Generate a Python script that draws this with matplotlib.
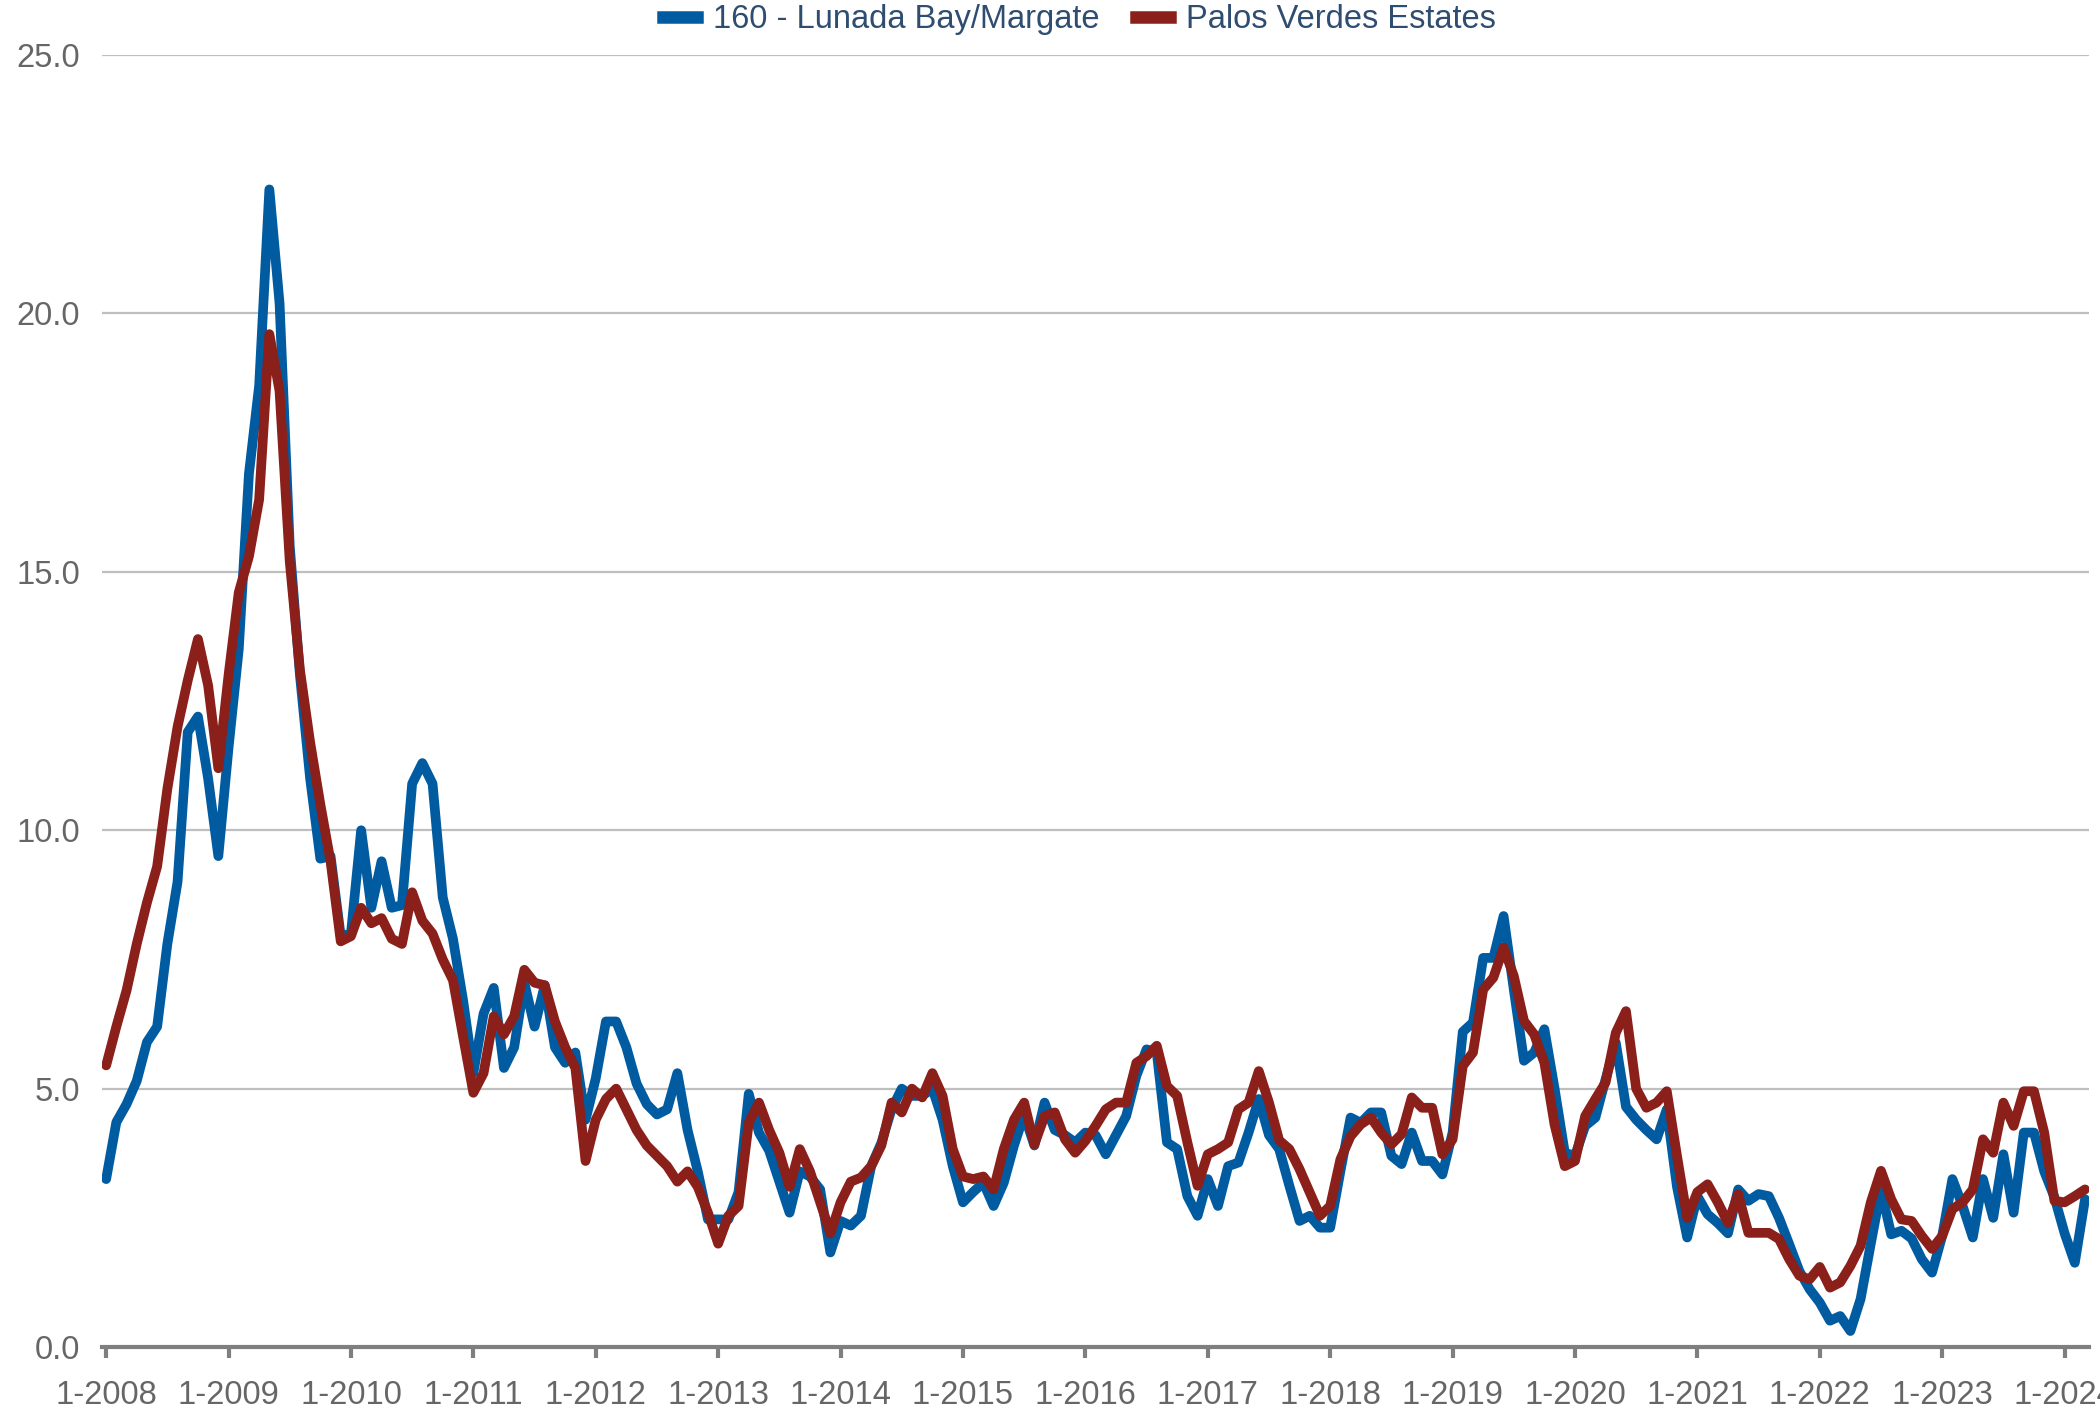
import numpy as np
import matplotlib.pyplot as plt
from matplotlib.lines import Line2D

plt.rcParams['font.family'] = ['Liberation Sans', 'DejaVu Sans']

# monthly values, Jan 2008 .. Mar 2024
lunada = [
    3.25, 4.35, 4.7, 5.15, 5.9, 6.2, 7.8, 9.0, 11.9, 12.2, 11.0, 9.5,        # 2008
    11.6, 13.5, 16.9, 18.6, 22.4, 20.2, 15.5, 13.0, 11.0, 9.45, 9.5, 7.95,  # 2009
    8.0, 10.0, 8.5, 9.4, 8.5, 8.55, 10.9, 11.3, 10.9, 8.7, 7.9, 6.7,        # 2010
    5.3, 6.45, 6.95, 5.4, 5.8, 7.05, 6.2, 7.0, 5.8, 5.5, 5.7, 4.4,          # 2011
    5.2, 6.3, 6.3, 5.8, 5.1, 4.7, 4.5, 4.6, 5.3, 4.2, 3.4, 2.47,            # 2012
    2.47, 2.47, 3.0, 4.9, 4.15, 3.8, 3.2, 2.6, 3.4, 3.3, 3.05, 1.83,        # 2013
    2.44, 2.35, 2.54, 3.5, 3.95, 4.6, 5.0, 4.86, 4.86, 5.0, 4.4, 3.5,       # 2014
    2.8, 3.0, 3.18, 2.73, 3.18, 3.9, 4.5, 3.9, 4.73, 4.2, 4.1, 3.96,        # 2015
    4.15, 4.1, 3.73, 4.1, 4.47, 5.25, 5.76, 5.7, 3.96, 3.83, 2.92, 2.54,    # 2016
    3.25, 2.73, 3.5, 3.57, 4.15, 4.8, 4.1, 3.83, 3.12, 2.44, 2.54, 2.31,    # 2017
    2.31, 3.4, 4.44, 4.34, 4.54, 4.54, 3.7, 3.54, 4.15, 3.6, 3.6, 3.34,     # 2018
    4.15, 6.1, 6.28, 7.53, 7.53, 8.34, 6.92, 5.54, 5.7, 6.15, 5.0, 3.76,    # 2019
    3.7, 4.28, 4.44, 5.18, 5.89, 4.65, 4.4, 4.2, 4.02, 4.6, 3.1, 2.12,      # 2020
    2.92, 2.57, 2.4, 2.2, 3.05, 2.83, 2.96, 2.92, 2.5, 1.99, 1.47, 1.12,    # 2021
    0.86, 0.51, 0.6, 0.31, 0.93, 2.0, 3.05, 2.18, 2.25, 2.1, 1.7, 1.44,     # 2022
    2.15, 3.25, 2.73, 2.12, 3.25, 2.5, 3.73, 2.6, 4.15, 4.15, 3.4, 2.9,     # 2023
    2.2, 1.63, 2.86,                                                        # 2024
]

pve = [
    5.45, 6.2, 6.9, 7.8, 8.6, 9.3, 10.8, 12.0, 12.9, 13.7, 12.8, 11.2,      # 2008
    13.0, 14.6, 15.3, 16.4, 19.6, 18.5, 15.2, 13.1, 11.7, 10.5, 9.4, 7.85,  # 2009
    7.95, 8.5, 8.2, 8.3, 7.9, 7.8, 8.8, 8.25, 8.0, 7.5, 7.1, 6.0,           # 2010
    4.92, 5.3, 6.4, 6.05, 6.4, 7.3, 7.05, 7.0, 6.3, 5.8, 5.4, 3.6,          # 2011
    4.4, 4.8, 5.0, 4.6, 4.2, 3.9, 3.7, 3.5, 3.2, 3.4, 3.1, 2.6,             # 2012
    2.0, 2.54, 2.73, 4.34, 4.73, 4.2, 3.76, 3.1, 3.83, 3.4, 2.8, 2.2,       # 2013
    2.8, 3.2, 3.28, 3.5, 3.9, 4.73, 4.54, 5.0, 4.83, 5.3, 4.86, 3.83,       # 2014
    3.3, 3.25, 3.3, 3.05, 3.83, 4.4, 4.73, 3.92, 4.47, 4.54, 4.02, 3.76,    # 2015
    3.99, 4.28, 4.6, 4.73, 4.73, 5.5, 5.63, 5.83, 5.05, 4.86, 3.96, 3.12,   # 2016
    3.73, 3.83, 3.96, 4.6, 4.73, 5.34, 4.73, 4.0, 3.83, 3.44, 2.99, 2.54,   # 2017
    2.73, 3.63, 4.08, 4.31, 4.44, 4.15, 3.92, 4.12, 4.83, 4.63, 4.63, 3.73, # 2018
    4.02, 5.44, 5.7, 6.92, 7.15, 7.73, 7.18, 6.31, 6.05, 5.5, 4.3, 3.5,     # 2019
    3.6, 4.47, 4.8, 5.12, 6.08, 6.5, 5.0, 4.63, 4.73, 4.95, 3.7, 2.5,       # 2020
    3.0, 3.15, 2.8, 2.4, 2.96, 2.21, 2.21, 2.21, 2.09, 1.7, 1.38, 1.31,     # 2021
    1.55, 1.15, 1.25, 1.57, 1.96, 2.8, 3.41, 2.86, 2.47, 2.44, 2.15, 1.9,   # 2022
    2.15, 2.67, 2.8, 3.05, 4.02, 3.76, 4.73, 4.28, 4.95, 4.95, 4.15, 2.83,  # 2023
    2.8, 2.92, 3.05,                                                        # 2024
]

series_names = ["160 - Lunada Bay/Margate", "Palos Verdes Estates"]
years = list(range(2008, 2025))
tick_labels = [f"1-{y}" for y in years]

blue = '#005BA1'
red = '#8B1F1A'
grey_txt = '#666666'

months = np.arange(len(lunada))

fig = plt.figure(figsize=(21, 14.12), dpi=100)
ax = fig.add_axes([0.0486, 0.046, 0.9462, 0.915])

ax.plot(months, lunada, color=blue, lw=7, solid_joinstyle='round', solid_capstyle='round')
ax.plot(months, pve, color=red, lw=7, solid_joinstyle='round', solid_capstyle='round')

ax.set_xlim(-0.4, len(months) - 0.6)
ax.set_ylim(0, 25)
ax.set_yticks(np.arange(0, 26, 5))
ax.set_yticklabels([f"{v:.1f}" for v in np.arange(0, 26, 5)])
ax.set_xticks(np.arange(0, len(months), 12))
ax.set_xticklabels(tick_labels)

ax.yaxis.grid(True, color='#bfbfbf', lw=1.6)
ax.set_axisbelow(True)
for s in ['top', 'right', 'left']:
    ax.spines[s].set_visible(False)
ax.spines['bottom'].set_color('#7f7f7f')
ax.spines['bottom'].set_linewidth(3)

ax.tick_params(axis='y', length=0, pad=16, labelsize=23.5, labelcolor=grey_txt)
ax.tick_params(axis='x', length=8, width=3, color='#7f7f7f', pad=16,
               labelsize=23.5, labelcolor=grey_txt)

handles = [Line2D([], [], color=blue, lw=9), Line2D([], [], color=red, lw=9)]
fig.legend(handles, series_names, loc='upper center', bbox_to_anchor=(0.514, 1.018),
           ncol=2, frameon=False, fontsize=23.5, handlelength=1.05, handletextpad=0.5,
           columnspacing=1.1, labelcolor='#2f4d70')

fig.savefig('out.png', dpi=100)
